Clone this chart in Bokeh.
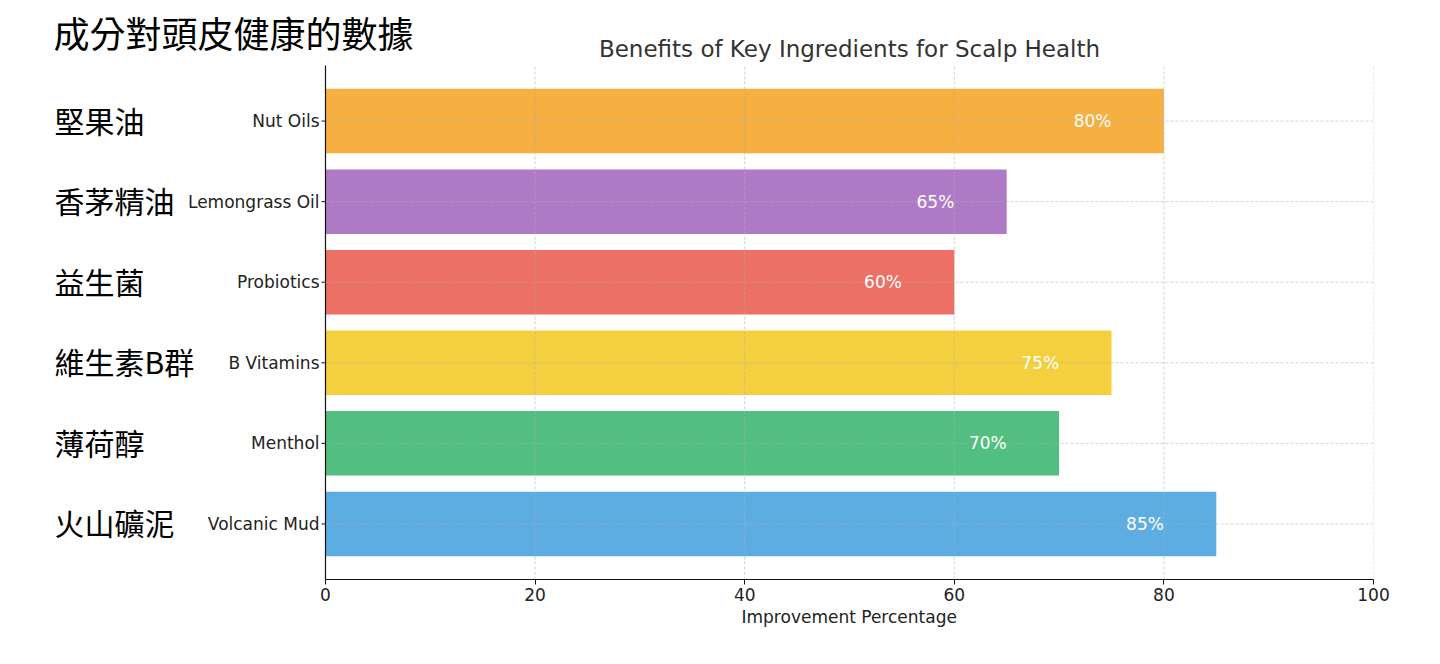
from bokeh.plotting import figure
from bokeh.models import ColumnDataSource, Range1d, FixedTicker, Title
from bokeh.core.properties import value
from bokeh.transform import dodge
from bokeh.embed import file_html
from bokeh.resources import INLINE

# ---- data ----
ingredients = ["Volcanic Mud", "Menthol", "B Vitamins", "Probiotics", "Lemongrass Oil", "Nut Oils"]
ingredients_zh = ["火山礦泥", "薄荷醇", "維生素B群", "益生菌", "香茅精油", "堅果油"]
improvement = [85, 70, 75, 60, 65, 80]
bar_colors = ["#5DADE2", "#52BE80", "#F4D03F", "#EC7063", "#AF7AC5", "#F5B041"]
x_ticks = [0, 20, 40, 60, 80, 100]
title_en = "Benefits of Key Ingredients for Scalp Health"
title_zh = "成分對頭皮健康的數據"
x_label = "Improvement Percentage"

# ---- layout constants (pixels -> data) ----
EN = "DejaVu Sans"
ZH = "Noto Sans CJK TC"
n = len(ingredients)
positions = list(range(n))
X_LO, X_HI = x_ticks[0], x_ticks[-1]
Y_LO, Y_HI = -0.69, n - 1 + 0.69          # plotting area (bars with 5% margins)
PLOT_L, PLOT_T, PLOT_W, PLOT_H = 325, 65, 1048, 514
PX_X = PLOT_W / (X_HI - X_LO)
PX_Y = PLOT_H / (Y_HI - Y_LO)
FRAME_H = PLOT_T + PLOT_H

src = ColumnDataSource(dict(
    y=positions,
    name=ingredients,
    zh=ingredients_zh,
    value=improvement,
    color=bar_colors,
    label=[f"{v}%" for v in improvement],
))

p = figure(
    frame_width=PLOT_L + PLOT_W, frame_height=FRAME_H,
    min_border_left=0, min_border_right=1440 - PLOT_L - PLOT_W,
    min_border_top=0, min_border_bottom=664 - FRAME_H,
    x_range=Range1d(X_LO - PLOT_L / PX_X, X_HI),
    y_range=Range1d(Y_LO, Y_LO + FRAME_H / PX_Y),
    y_axis_location=None,
    output_backend="svg", toolbar_location=None,
)
p.outline_line_color = None
p.background_fill_color = "white"
p.border_fill_color = "white"
p.xgrid.visible = False
p.ygrid.visible = False

# bars
p.hbar(y="y", right="value", left=0, height=0.8, color="color", line_color=None, source=src)

# grid (drawn above bars, faint)
grid_kw = dict(line_color="#b0b0b0", line_alpha=0.7, line_width=0.8, line_dash="3 2")
p.segment(x0=x_ticks, x1=x_ticks, y0=[Y_LO] * len(x_ticks), y1=[Y_HI] * len(x_ticks), **grid_kw)
p.segment(x0=[X_LO] * n, x1=[X_HI] * n, y0=positions, y1=positions, **grid_kw)

# left spine and ticks
p.segment(x0=[0], x1=[0], y0=[Y_LO], y1=[Y_HI], line_color="#111111", line_width=1.2)
p.segment(x0=[-4 / PX_X] * n, x1=[0] * n, y0=positions, y1=positions, line_color="#111111", line_width=1)

# bottom axis
p.xaxis.ticker = FixedTicker(ticks=x_ticks)
p.xaxis.bounds = (X_LO, X_HI)
p.xaxis.axis_line_color = "#111111"
p.xaxis.axis_line_width = 1.2
p.xaxis.major_tick_line_color = "#111111"
p.xaxis.major_tick_in = 0
p.xaxis.major_tick_out = 5
p.xaxis.minor_tick_line_color = None
p.xaxis.major_label_text_font = EN
p.xaxis.major_label_text_font_size = "17px"
p.xaxis.major_label_text_color = "#222222"
p.xaxis.major_label_standoff = 3

# x-axis label, centred under the plotting area
p.add_layout(Title(
    text=x_label, align="left", offset=PLOT_L + PLOT_W / 2 - 108,
    text_font=EN, text_font_size="17px", text_font_style="normal",
    text_color="#222222", standoff=2,
), "below")

# category labels (English)
p.text(x=-6 / PX_X, y="y", text="name", source=src,
       text_align="right", text_baseline="middle",
       text_color="#222222", text_font=value(EN), text_font_size="17px")

# value labels
p.text(x=dodge("value", -5), y="y", text="label", source=src,
       text_align="right", text_baseline="middle",
       text_color="white", text_font=value(EN), text_font_size="17px")

# Chinese category labels
p.text(x=X_LO - (PLOT_L - 54) / PX_X, y=dodge("y", 1.5 / PX_Y), text="zh", source=src,
       text_align="left", text_baseline="middle",
       text_color="black", text_font=value(ZH), text_font_size="30px")

# Chinese heading
p.text(x=[X_LO - (PLOT_L - 53) / PX_X], y=[Y_HI + (PLOT_T - 31) / PX_Y], text=[title_zh],
       text_align="left", text_baseline="middle",
       text_color="black", text_font=value(ZH), text_font_size="36px")

# English title
p.text(x=[(X_LO + X_HI) / 2], y=[Y_HI + (PLOT_T - 48) / PX_Y], text=[title_en],
       text_align="center", text_baseline="alphabetic",
       text_color="#333333", text_font=value(EN), text_font_size="23px")

open("out.html", "w").write(file_html(p, INLINE))
